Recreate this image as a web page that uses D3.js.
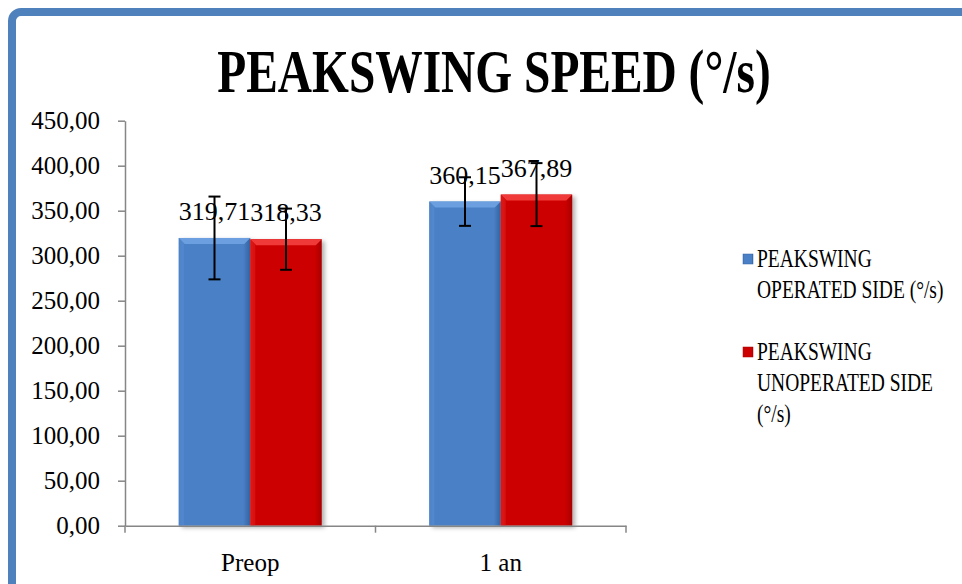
<!DOCTYPE html>
<html>
<head>
<meta charset="utf-8">
<script src="https://cdn.jsdelivr.net/npm/d3@7"></script>
<style>
  html, body { margin: 0; padding: 0; background: #fff; }
  svg { display: block; }
  text { font-family: "Liberation Serif", "Times New Roman", serif; fill: #000; }
</style>
</head>
<body>
<svg id="chart" width="962" height="584"></svg>
<script>
// chart data
const categories = ["Preop", "1 an"];
const seriesNames = ["PEAKSWING OPERATED SIDE (°/s)", "PEAKSWING UNOPERATED SIDE (°/s)"];
const legendLines = [["PEAKSWING", "OPERATED SIDE (°/s)"], ["PEAKSWING", "UNOPERATED SIDE", "(°/s)"]];
const operated = [319.71, 360.15];
const unoperated = [318.33, 367.89];
const operatedErr = [46, 27];
const unoperatedErr = [34, 35];
const yTicks = [0, 50, 100, 150, 200, 250, 300, 350, 400, 450];
const titleText = "PEAKSWING SPEED (°/s)";

const serif = '"Liberation Serif", "Times New Roman", serif';
const svg = d3.select("#chart");
const defs = svg.append("defs");

// blue frame of the chart area (runs off the right and bottom)
svg.append("rect")
  .attr("x", 12).attr("y", 12)
  .attr("width", 1000).attr("height", 700)
  .attr("rx", 9)
  .attr("fill", "#fff")
  .attr("stroke", "#4f81bd")
  .attr("stroke-width", 8);

// title, drawn a bit narrow like the original
svg.append("g")
  .attr("transform", "translate(494,92) scale(0.79,1.02)")
  .append("text")
  .attr("text-anchor", "middle")
  .attr("font-size", 60)
  .attr("font-weight", "bold")
  .style("font-family", serif)
  .text(titleText);

const y = d3.scaleLinear().domain([0, 450]).range([525.7, 120.7]);
const x = d3.scaleBand().domain(categories).range([125, 626]);
const groupW = 143;
const xs = d3.scaleBand().domain([0, 1]).range([0, groupW]);

// bar looks: side shading + top bevel
const palettes = [
  {id: "gBlue", edgeL: "#3c6fb0", body: "#4a80c6", edgeR: "#3462a0", bevel: "#6b9fe0", side: "#5a8fd6"},
  {id: "gRed", edgeL: "#d41010", body: "#cc0000", edgeR: "#a80000", bevel: "#f03a3a", side: "#e01c1c"}
];
palettes.forEach(p => {
  const lg = defs.append("linearGradient").attr("id", p.id)
    .attr("x1", 0).attr("x2", 1).attr("y1", 0).attr("y2", 0);
  lg.append("stop").attr("offset", 0).attr("stop-color", p.edgeL);
  lg.append("stop").attr("offset", 0.07).attr("stop-color", p.body);
  lg.append("stop").attr("offset", 0.9).attr("stop-color", p.body);
  lg.append("stop").attr("offset", 1).attr("stop-color", p.edgeR);
});
const shadow = defs.append("filter").attr("id", "shadow")
  .attr("x", "-20%").attr("y", "-20%").attr("width", "140%").attr("height", "140%");
shadow.append("feDropShadow")
  .attr("dx", 3).attr("dy", 2).attr("stdDeviation", 2)
  .attr("flood-color", "#000").attr("flood-opacity", 0.3);

const rows = [];
categories.forEach((c, i) => {
  rows.push({cat: c, s: 0, v: operated[i], e: operatedErr[i]});
  rows.push({cat: c, s: 1, v: unoperated[i], e: unoperatedErr[i]});
});
const bx = d => x(d.cat) + (x.bandwidth() - groupW) / 2 + xs(d.s);
const bw = xs.bandwidth();

const bars = svg.append("g").selectAll("g")
  .data(rows)
  .join("g");

bars.append("rect")
  .attr("x", bx)
  .attr("y", d => y(d.v))
  .attr("width", bw)
  .attr("height", d => y(0) - y(d.v))
  .attr("fill", d => `url(#${palettes[d.s].id})`)
  .attr("filter", "url(#shadow)");

// top bevel
bars.append("path")
  .attr("d", d => {
    const x0 = bx(d), y0 = y(d.v), b = 6;
    return `M${x0},${y0}L${x0 + bw},${y0}L${x0 + bw - b},${y0 + b}L${x0 + b},${y0 + b}Z`;
  })
  .attr("fill", d => palettes[d.s].bevel);
// left bevel
bars.append("path")
  .attr("d", d => {
    const x0 = bx(d), y0 = y(d.v), y1 = y(0), b = 5;
    return `M${x0},${y0}L${x0 + b},${y0 + b}L${x0 + b},${y1}L${x0},${y1}Z`;
  })
  .attr("fill", d => palettes[d.s].side)
  .attr("opacity", 0.6);

// axes
const axisColor = "#868686";
const yAxis = svg.append("g")
  .attr("transform", "translate(125,0)")
  .call(d3.axisLeft(y).tickValues(yTicks).tickSize(7).tickSizeOuter(0).tickPadding(18)
    .tickFormat(d => d.toFixed(2).replace(".", ",")));
yAxis.selectAll("line, path").attr("stroke", axisColor).attr("stroke-width", 1.5);
yAxis.selectAll("text").attr("font-size", 25).attr("fill", "#000")
  .style("font-family", serif).attr("dy", "0.32em");

const xAxis = svg.append("g")
  .attr("transform", `translate(0,${y(0)})`)
  .call(d3.axisBottom(x).tickSize(0).tickSizeOuter(0).tickPadding(28));
xAxis.select("path").attr("stroke", axisColor).attr("stroke-width", 1.5);
xAxis.selectAll("text").attr("font-size", 25).attr("fill", "#000")
  .style("font-family", serif);
// category boundary ticks
const bounds = [x.range()[0]].concat(categories.map(c => x(c) + x.bandwidth()));
svg.append("g").selectAll("line")
  .data(bounds)
  .join("line")
  .attr("x1", d => d).attr("x2", d => d)
  .attr("y1", y(0)).attr("y2", y(0) + 7)
  .attr("stroke", axisColor).attr("stroke-width", 1.5);

// data labels
svg.append("g").selectAll("text")
  .data(rows)
  .join("text")
  .attr("x", d => bx(d) + bw / 2)
  .attr("y", d => y(d.v) - 18)
  .attr("text-anchor", "middle")
  .attr("font-size", 26)
  .style("font-family", serif)
  .text(d => d.v.toFixed(2).replace(".", ","));

// error bars
const eb = svg.append("g").attr("stroke", "#000").attr("stroke-width", 2)
  .selectAll("g").data(rows).join("g");
eb.append("line")
  .attr("x1", d => bx(d) + bw / 2).attr("x2", d => bx(d) + bw / 2)
  .attr("y1", d => y(d.v + d.e)).attr("y2", d => y(d.v - d.e));
[1, -1].forEach(k => {
  eb.append("line")
    .attr("x1", d => bx(d) + bw / 2 - 6).attr("x2", d => bx(d) + bw / 2 + 6)
    .attr("y1", d => y(d.v + k * d.e)).attr("y2", d => y(d.v + k * d.e));
});

// legend
const legendTop = [254, 347];
const leg = svg.append("g").selectAll("g")
  .data(seriesNames)
  .join("g")
  .attr("transform", (d, i) => `translate(743,${legendTop[i]})`);
leg.append("rect")
  .attr("width", 10).attr("height", 10)
  .attr("fill", (d, i) => `url(#${palettes[i].id})`)
  .attr("stroke", (d, i) => palettes[i].edgeR).attr("stroke-width", 0.5);
leg.each(function(d, i) {
  const t = d3.select(this).append("g")
    .attr("transform", "translate(14,13) scale(0.78,1)")
    .append("text").attr("font-size", 25)
    .style("font-family", serif);
  t.selectAll("tspan")
    .data(legendLines[i])
    .join("tspan")
    .attr("x", 0)
    .attr("dy", (l, j) => j === 0 ? 0 : 31)
    .text(l => l);
});
</script>
</body>
</html>
